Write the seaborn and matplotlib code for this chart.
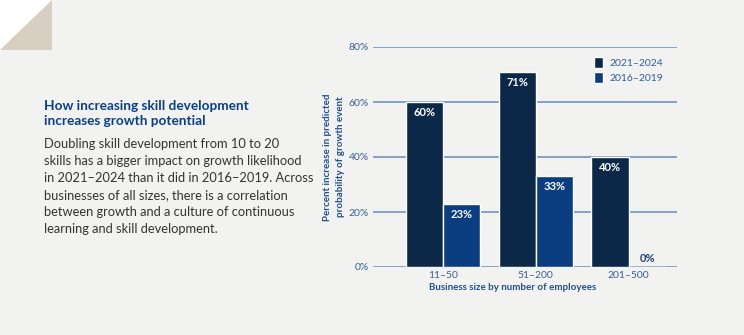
import matplotlib
matplotlib.use("Agg")
import matplotlib.pyplot as plt
import seaborn as sns
import pandas as pd
from matplotlib.patches import Polygon

categories = ["11–50", "51–200", "201–500"]
periods = ["2021–2024", "2016–2019"]
values_2021_2024 = [60, 71, 40]
values_2016_2019 = [23, 33, 0]
yticks = [0, 20, 40, 60, 80]
ytick_labels = ["0%", "20%", "40%", "60%", "80%"]

title_text = "How increasing skill development\nincreases growth potential"
body_text = ("Doubling skill development from 10 to 20\n"
             "skills has a bigger impact on growth likelihood\n"
             "in 2021–2024 than it did in 2016–2019. Across\n"
             "businesses of all sizes, there is a correlation\n"
             "between growth and a culture of continuous\n"
             "learning and skill development.")
ylabel_text = "Percent increase in predicted\nprobability of growth event"
xlabel_text = "Business size by number of employees"

df = pd.DataFrame({
    "size": categories * 2,
    "period": [periods[0]] * 3 + [periods[1]] * 3,
    "value": values_2021_2024 + values_2016_2019,
})

sns.set_style("white")
plt.rcParams["font.family"] = ["Lato", "DejaVu Sans"]

BG = "#f2f2f0"
NAVY = "#0c2849"
BLUE = "#0a3e80"
TICK = "#3a5f95"
GRID = "#7d9bc4"

W, H = 744, 335
fig = plt.figure(figsize=(W / 100, H / 100), dpi=100, facecolor=BG)

# decorative corner
fig.patches.append(Polygon([(0, 1), (52 / W, 1), (0, 1 - 50 / H)], closed=True,
                           transform=fig.transFigure, facecolor="white", edgecolor="none"))
fig.patches.append(Polygon([(52 / W, 1), (52 / W, 1 - 50 / H), (0, 1 - 50 / H)], closed=True,
                           transform=fig.transFigure, facecolor="#d8cfc2", edgecolor="none"))

ax = fig.add_axes([373 / W, (H - 267) / H, (677 - 373) / W, (267 - 47) / H])
ax.set_facecolor(BG)

sns.barplot(data=df, x="size", y="value", hue="period", order=categories,
            hue_order=periods, palette=[NAVY, BLUE], saturation=1, width=0.8,
            edgecolor="white", linewidth=1.0, ax=ax, zorder=3)

ax.set_ylim(0, 80)
ax.set_xlim(-0.75, 2.52)
ax.set_yticks(yticks)
ax.set_yticklabels(ytick_labels)
ax.yaxis.grid(True, color=GRID, linewidth=1.3, zorder=0)
ax.set_axisbelow(True)
for s in ax.spines.values():
    s.set_visible(False)
ax.tick_params(axis="both", length=0, colors=TICK, labelsize=7.5)
ax.tick_params(axis="y", pad=3)
ax.tick_params(axis="x", pad=3)
ax.set_xlabel("")
ax.set_ylabel("")

for cont in ax.containers:
    for bar in cont:
        h = bar.get_height()
        xc = bar.get_x() + bar.get_width() / 2
        if h > 3:
            ax.annotate(f"{h:.0f}%", (xc, h), xytext=(0, -5), textcoords="offset pixels",
                        ha="center", va="top", color="white", fontsize=8, fontweight="bold",
                        zorder=5)
        else:
            ax.annotate(f"{h:.0f}%", (xc, h), xytext=(0, 3), textcoords="offset pixels",
                        ha="center", va="bottom", color="#1f3f6e", fontsize=8,
                        fontweight="bold", zorder=5)

leg = ax.legend(loc="upper left", bbox_to_anchor=(0.727, 0.955), frameon=False,
                handlelength=0.9, handleheight=1.3, handletextpad=0.55,
                labelspacing=0.35, borderaxespad=0, borderpad=0, fontsize=7.5)
for t in leg.get_texts():
    t.set_color("#2e5fa0")

fig.text(334 / W, 1 - 157 / H, ylabel_text, rotation=90, ha="center", va="center",
         color="#1f4e91", fontsize=7, fontweight="bold", linespacing=1.45)
fig.text(513 / W, 1 - 287 / H, xlabel_text, ha="center", va="center",
         color="#1f4e91", fontsize=7, fontweight="bold")

fig.text(44 / W, 1 - 100 / H, title_text, ha="left", va="top", color="#0a3f8a",
         fontsize=9.8, fontweight="bold", linespacing=1.33)
fig.text(44 / W, 1 - 138 / H, body_text, ha="left", va="top", color="#333333",
         fontsize=9.3, linespacing=1.5)

fig.savefig("out.png", dpi=100, facecolor=BG)
